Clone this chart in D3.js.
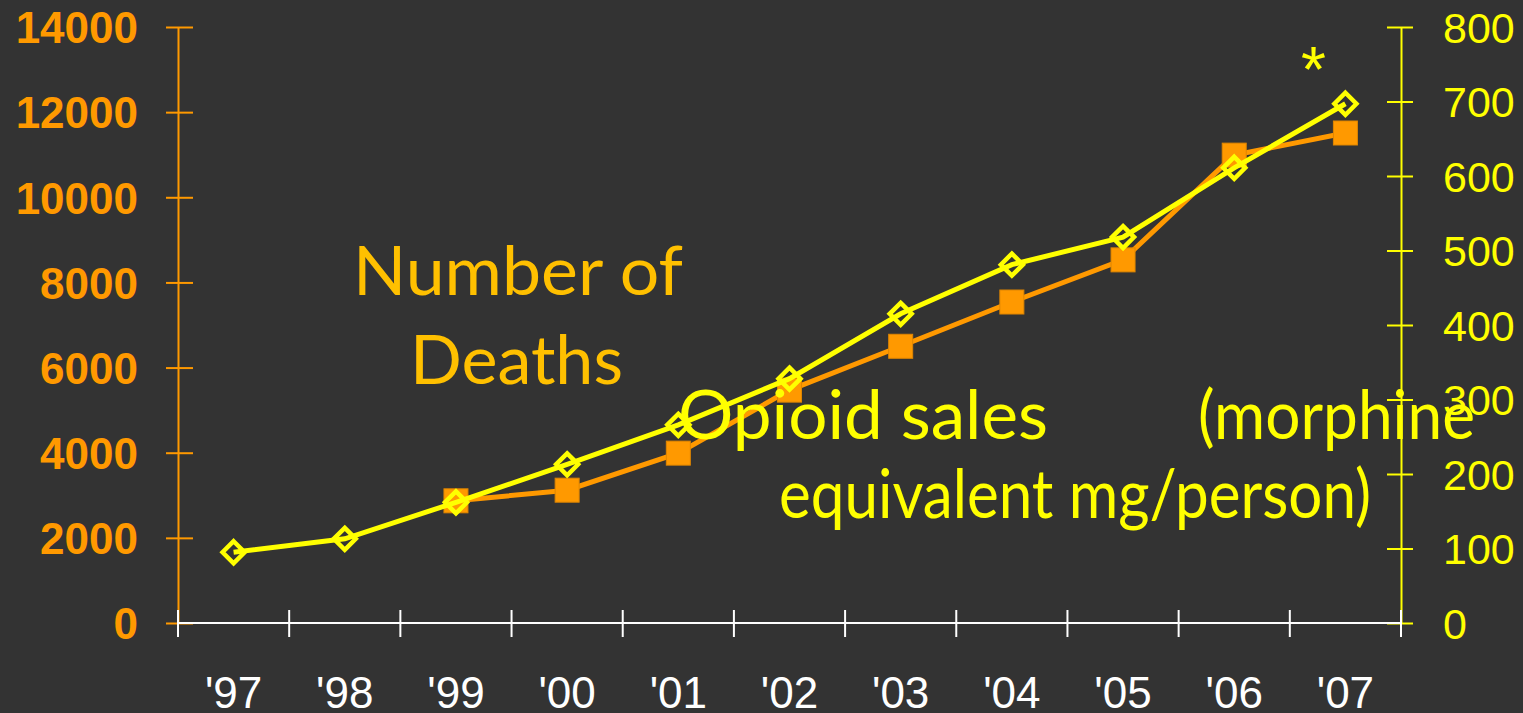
<!DOCTYPE html>
<html>
<head>
<meta charset="utf-8">
<script src="https://cdn.jsdelivr.net/npm/d3@7"></script>
<style>
  html, body { margin: 0; padding: 0; background: #333333; }
  svg { display: block; }
</style>
</head>
<body>
<svg id="chart" width="1523" height="713"></svg>
<script>
// Years on the x axis
const years = ["'97", "'98", "'99", "'00", "'01", "'02", "'03", "'04", "'05", "'06", "'07"];

// Opioid overdose deaths (left axis), reported from 1999 on
const deathYears = ["'99", "'00", "'01", "'02", "'03", "'04", "'05", "'06", "'07"];
const deaths = [2870, 3120, 3990, 5470, 6500, 7540, 8530, 10990, 11510];

// Opioid sales, morphine-equivalent mg per person (right axis)
const sales = [95, 113, 162, 213, 266, 328, 415, 481, 518, 611, 697];

// Tick labels
const leftTicks = [0, 2000, 4000, 6000, 8000, 10000, 12000, 14000];
const rightTicks = [0, 100, 200, 300, 400, 500, 600, 700, 800];

const ORANGE = "#FF9900";
const YELLOW = "#FFFF00";
const GOLD = "#FFC000";

const svg = d3.select("#chart");
const plotLeft = 178, plotRight = 1401, plotTop = 27, plotBottom = 623;

const x = d3.scaleBand().domain(years).range([plotLeft, plotRight]).padding(0);
const cx = d => x(d) + x.bandwidth() / 2;
const yL = d3.scaleLinear().domain([0, 14000]).range([plotBottom, plotTop]);
const yR = d3.scaleLinear().domain([0, 800]).range([plotBottom, plotTop]);

// Left axis (deaths)
const gL = svg.append("g").attr("transform", `translate(${plotLeft},0)`)
  .call(d3.axisLeft(yL).tickValues(leftTicks).tickSize(0).tickPadding(40).tickFormat(d3.format("d")));
gL.select(".domain").attr("stroke", ORANGE).attr("stroke-width", 2);
gL.selectAll(".tick").append("line").attr("x1", -12).attr("x2", 15)
  .attr("stroke", ORANGE).attr("stroke-width", 2);
gL.selectAll(".tick text")
  .attr("fill", ORANGE).attr("font-family", "Liberation Sans, Arial, sans-serif")
  .attr("font-weight", "bold").attr("font-size", 44).attr("dy", "0.36em");

// Right axis (sales)
const gR = svg.append("g").attr("transform", `translate(${plotRight},0)`)
  .call(d3.axisRight(yR).tickValues(rightTicks).tickSize(0).tickPadding(42).tickFormat(d3.format("d")));
gR.select(".domain").attr("stroke", YELLOW).attr("stroke-width", 2);
gR.selectAll(".tick").append("line").attr("x1", -14).attr("x2", 12)
  .attr("stroke", YELLOW).attr("stroke-width", 2);
gR.selectAll(".tick text")
  .attr("fill", YELLOW).attr("font-family", "Liberation Sans, Arial, sans-serif")
  .attr("font-size", 43).attr("dy", "0.36em");

// Bottom axis with ticks at the category boundaries
const gX = svg.append("g").attr("transform", `translate(0,${plotBottom})`);
gX.append("line").attr("x1", plotLeft).attr("x2", plotRight)
  .attr("stroke", "#FFFFFF").attr("stroke-width", 2);
const edges = years.map(d => x(d)).concat([x.range()[1]]);
gX.selectAll("line.tk").data(edges).join("line").attr("class", "tk")
  .attr("x1", d => d).attr("x2", d => d).attr("y1", -13).attr("y2", 14)
  .attr("stroke", "#FFFFFF").attr("stroke-width", 2);
gX.selectAll("text").data(years).join("text")
  .attr("x", d => cx(d)).attr("y", 85)
  .attr("text-anchor", "middle").attr("fill", "#FFFFFF")
  .attr("font-family", "Liberation Sans, Arial, sans-serif").attr("font-size", 44)
  .text(d => d);

// Deaths series: orange line with filled squares
const deathPts = deathYears.map((yr, i) => ({ yr, v: deaths[i] }));
svg.append("path").datum(deathPts)
  .attr("fill", "none").attr("stroke", ORANGE).attr("stroke-width", 5)
  .attr("d", d3.line().x(d => cx(d.yr)).y(d => yL(d.v)));
svg.selectAll("rect.death").data(deathPts).join("rect").attr("class", "death")
  .attr("x", d => cx(d.yr) - 12).attr("y", d => yL(d.v) - 12)
  .attr("width", 24).attr("height", 24)
  .attr("fill", ORANGE).attr("stroke", "#E08600").attr("stroke-width", 1);

// Sales series: yellow line with hollow diamonds
const salesPts = years.map((yr, i) => ({ yr, v: sales[i] }));
svg.append("path").datum(salesPts)
  .attr("fill", "none").attr("stroke", YELLOW).attr("stroke-width", 5)
  .attr("d", d3.line().x(d => cx(d.yr)).y(d => yR(d.v)));
const dm = 11;
svg.selectAll("path.sale").data(salesPts).join("path").attr("class", "sale")
  .attr("d", d => {
    const px = cx(d.yr), py = yR(d.v);
    return `M${px},${py - dm}L${px + dm},${py}L${px},${py + dm}L${px - dm},${py}Z`;
  })
  .attr("fill", "none").attr("stroke", YELLOW).attr("stroke-width", 4.5);

// Annotations
const annFont = "Lato, 'Open Sans', sans-serif";
function label(txt, xPos, yPos, width, color) {
  svg.append("text").attr("x", xPos).attr("y", yPos)
    .attr("fill", color).attr("font-family", annFont).attr("font-size", 68)
    .attr("textLength", width).attr("lengthAdjust", "spacingAndGlyphs")
    .text(txt);
}
label("Number of", 353, 295, 330, GOLD);
label("Deaths", 410, 384, 213, GOLD);
label("Opioid sales", 678, 439, 370, YELLOW);
label("(morphine", 1198, 439, 277, YELLOW);
label("equivalent mg/person)", 779, 518, 592, YELLOW);

// Marker on the last year of sales
svg.append("text").attr("x", cx("'07") - 32).attr("y", 92)
  .attr("text-anchor", "middle").attr("fill", YELLOW)
  .attr("font-family", "Liberation Sans, Arial, sans-serif").attr("font-size", 64)
  .text("*");
</script>
</body>
</html>
